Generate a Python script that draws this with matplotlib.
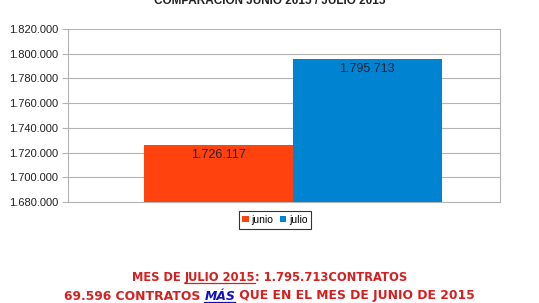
import matplotlib.pyplot as plt

# Datos
series = ['junio', 'julio']
valores = [1726117, 1795713]
colores = ['#ff420e', '#0084d1']
yticks = [1680000, 1700000, 1720000, 1740000, 1760000, 1780000, 1800000, 1820000]


def miles(v):
    return f'{v:,}'.replace(',', '.')


plt.rcParams['font.family'] = ['Liberation Sans', 'DejaVu Sans']

fig = plt.figure(figsize=(5.39, 3.03), dpi=100)
ax = fig.add_axes([68 / 539, 1 - 202 / 303, 432 / 539, 173 / 303])

ancho = 0.345
pos = [-ancho / 2, ancho / 2]
barras = ax.bar(pos, valores, width=ancho, color=colores, zorder=3, label=series)
for b, v in zip(barras, valores):
    ax.text(b.get_x() + b.get_width() / 2, v - 3500, miles(v),
            ha='center', va='top', fontsize=9, color='#222233', zorder=4)

ax.set_xlim(-0.52, 0.48)
ax.set_ylim(yticks[0], yticks[-1])
ax.set_yticks(yticks)
ax.set_yticklabels([miles(t) for t in yticks], fontsize=8, color='#222222')
ax.set_xticks([])
ax.grid(axis='y', color='#b3b3b3', linewidth=0.8, zorder=0)
for s in ax.spines.values():
    s.set_color('#b3b3b3')
ax.spines['top'].set_visible(False)
ax.tick_params(axis='y', length=4, color='#b3b3b3', pad=3)

leg = ax.legend(handles=barras, labels=series, loc='upper center',
                bbox_to_anchor=(275 / 539, 1 - 206 / 303), bbox_transform=fig.transFigure,
                ncol=2, fontsize=7.5, frameon=True, fancybox=False, handlelength=0.6,
                handleheight=0.6, handletextpad=0.3, columnspacing=0.6,
                borderpad=0.35, edgecolor='#000000')
leg.get_frame().set_linewidth(0.8)

# Título (cortado arriba, como en el original)
fig.text(0.5, 1 - 1.5 / 303, 'COMPARACIÓN JUNIO 2015 / JULIO 2015', ha='center', va='center',
         fontsize=8.5, fontweight='bold', color='#222222')

# Texto inferior con partes subrayadas
fig.canvas.draw()
renderer = fig.canvas.get_renderer()


def linea(partes, yc, size):
    textos = []
    for txt, color, italic, sub in partes:
        t = fig.text(0, yc, txt, ha='left', va='baseline', fontsize=size,
                     fontweight='bold', color=color,
                     fontstyle='italic' if italic else 'normal',
                     family=['DejaVu Sans'])
        textos.append((t, color, sub))
    anchos = [t.get_window_extent(renderer).width for t, _, _ in textos]
    x = (539 - sum(anchos)) / 2
    for (t, color, sub), w in zip(textos, anchos):
        t.set_x(x / 539)
        if sub:
            yl = yc - 2 / 303
            fig.add_artist(plt.Line2D([x / 539, (x + w) / 539], [yl, yl],
                                      color=color, linewidth=0.9))
        x += w


rojo = '#d42020'
linea([('MES DE ', rojo, False, False),
       ('JULIO 2015', rojo, False, True),
       (': 1.795.713CONTRATOS', rojo, False, False)], 1 - 281 / 303, 8.3)
linea([('69.596 CONTRATOS ', rojo, False, False),
       ('MÁS', '#1010c0', True, True),
       (' QUE EN EL MES DE JUNIO DE 2015', rojo, False, False)], 1 - 299.5 / 303, 8.9)

fig.savefig('out.png', dpi=100, facecolor='white')
